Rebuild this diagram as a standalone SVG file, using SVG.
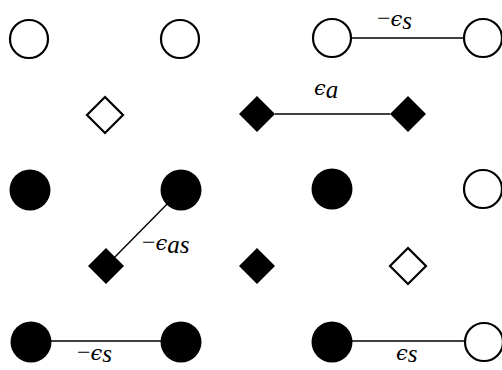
<svg xmlns="http://www.w3.org/2000/svg" width="502" height="370" viewBox="0 0 502 370">
  <style>
    .open { fill: #fff; stroke: #000; stroke-width: 2.2; }
    .full { fill: #000; stroke: none; }
    .link { stroke: #000; stroke-width: 1.4; fill: none; }
    .lbl { font-family: "Liberation Serif", "DejaVu Serif", serif; font-style: italic; font-size: 24px; fill: #000; }
    .eps { font-family: "DejaVu Serif", serif; font-size: 21px; }
    .sub { font-family: "Liberation Serif", serif; font-size: 25px; }
    .minus { font-family: "Liberation Serif", serif; font-style: normal; }
  </style>
  <defs>
    <polygon id="dia" points="0,-18 18,0 0,18 -18,0"/>
  </defs>

  <g id="connectors">
    <line class="link" x1="352" y1="38" x2="464" y2="38"/>
    <line class="link" x1="275" y1="114" x2="390" y2="114"/>
    <line class="link" x1="181" y1="190" x2="106" y2="266"/>
    <line class="link" x1="31" y1="341" x2="181" y2="341"/>
    <line class="link" x1="332" y1="341" x2="484" y2="341"/>
    <text class="lbl" x="377" y="26"><tspan class="minus">−</tspan><tspan class="eps">ϵ</tspan><tspan class="sub" dy="3">s</tspan></text>
    <text class="lbl" x="314" y="95"><tspan class="eps">ϵ</tspan><tspan class="sub" dy="3">a</tspan></text>
    <text class="lbl" x="142" y="250"><tspan class="minus">−</tspan><tspan class="eps">ϵ</tspan><tspan class="sub" dy="3">as</tspan></text>
    <text class="lbl" x="77" y="360"><tspan class="minus">−</tspan><tspan class="eps">ϵ</tspan><tspan class="sub" dy="2">s</tspan></text>
    <text class="lbl" x="396" y="360"><tspan class="eps">ϵ</tspan><tspan class="sub" dy="2">s</tspan></text>
  </g>

  <!-- row 1 -->
  <g id="n11"><circle class="open" cx="29" cy="39" r="19"/></g>
  <g id="n12"><circle class="open" cx="180" cy="39" r="19"/></g>
  <g id="n13"><circle class="open" cx="332" cy="38" r="19"/></g>
  <g id="n14"><circle class="open" cx="483" cy="38" r="19"/></g>

  <!-- row 2 -->
  <g id="d21"><use href="#dia" x="105" y="115" class="open"/></g>
  <g id="d22"><use href="#dia" x="257" y="114" class="full"/></g>
  <g id="d23"><use href="#dia" x="408" y="114" class="full"/></g>

  <!-- row 3 -->
  <g id="n31"><circle class="full" cx="30" cy="190" r="20.5"/></g>
  <g id="n32"><circle class="full" cx="181" cy="190" r="20.5"/></g>
  <g id="n33"><circle class="full" cx="332" cy="189" r="20.5"/></g>
  <g id="n34"><circle class="open" cx="483" cy="189" r="19"/></g>

  <!-- row 4 -->
  <g id="d41"><use href="#dia" x="106" y="266" class="full"/></g>
  <g id="d42"><use href="#dia" x="257" y="266" class="full"/></g>
  <g id="d43"><use href="#dia" x="408" y="266" class="open"/></g>

  <!-- row 5 -->
  <g id="n51"><circle class="full" cx="31" cy="342" r="20.5"/></g>
  <g id="n52"><circle class="full" cx="181" cy="342" r="20.5"/></g>
  <g id="n53"><circle class="full" cx="332" cy="342" r="20.5"/></g>
  <g id="n54"><circle class="open" cx="484" cy="342" r="19"/></g>
</svg>
